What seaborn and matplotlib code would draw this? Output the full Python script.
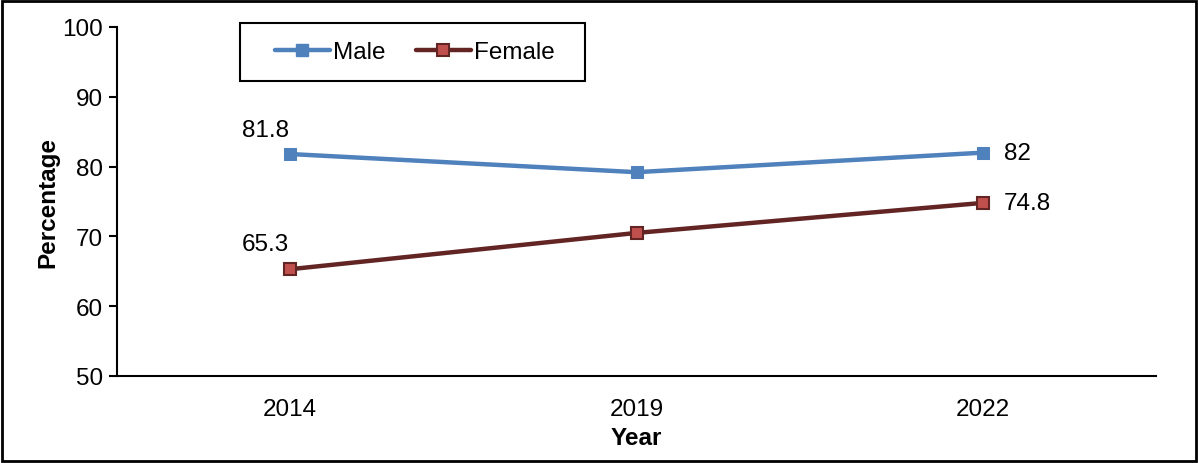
import pandas as pd
import seaborn as sns
import matplotlib.pyplot as plt
from matplotlib.patches import Rectangle

years = ['2014', '2019', '2022']
male = [81.8, 79.2, 82.0]
female = [65.3, 70.5, 74.8]
male_labels = ['81.8', '', '82']
female_labels = ['65.3', '', '74.8']

df = pd.DataFrame({
    'Year': years * 2,
    'Percentage': male + female,
    'Sex': ['Male'] * 3 + ['Female'] * 3,
})

sns.set_style('white')
plt.rcParams['font.family'] = ['Liberation Sans', 'DejaVu Sans']
for k in ['text.color', 'axes.labelcolor', 'xtick.color', 'ytick.color']:
    plt.rcParams[k] = 'black'

FS = 17.5

fig = plt.figure(figsize=(11.98, 4.64), dpi=100, facecolor='white')
ax = fig.add_axes([117 / 1198, 87 / 464, 1039 / 1198, 349 / 464])

ax = sns.lineplot(data=df, x='Year', y='Percentage', hue='Sex', style='Sex',
                  palette={'Male': '#4F81BD', 'Female': '#632523'},
                  markers={'Male': 's', 'Female': 's'}, dashes=False,
                  linewidth=3.2, markersize=9, ax=ax, legend=False)

# marker styling per series
l_male, l_female = ax.lines[0], ax.lines[1]
l_male.set_markerfacecolor('#4F81BD')
l_male.set_markeredgecolor('#4F81BD')
l_female.set_markerfacecolor('#C0504D')
l_female.set_markeredgecolor('#632523')
l_female.set_markeredgewidth(1.5)

ax.set_ylim(50, 100)
ax.set_xlim(-0.5, 2.5)
ax.set_yticks(range(50, 101, 10))

for i, (m, f) in enumerate(zip(male_labels, female_labels)):
    if i == 0:
        ax.annotate(m, (i, male[i]), xytext=(-18, 17), textcoords='offset points',
                    ha='center', va='center', fontsize=FS)
        ax.annotate(f, (i, female[i]), xytext=(-18, 18), textcoords='offset points',
                    ha='center', va='center', fontsize=FS)
    elif m:
        ax.annotate(m, (i, male[i]), xytext=(15, 0), textcoords='offset points',
                    ha='left', va='center', fontsize=FS)
        ax.annotate(f, (i, female[i]), xytext=(15, 0), textcoords='offset points',
                    ha='left', va='center', fontsize=FS)

for s in ['top', 'right']:
    ax.spines[s].set_visible(False)
for s in ['left', 'bottom']:
    ax.spines[s].set_linewidth(1.5)
    ax.spines[s].set_color('black')

ax.tick_params(axis='y', left=True, length=6, width=1.5, labelsize=FS, pad=4)
ax.tick_params(axis='x', bottom=False, labelsize=FS, pad=12)
ax.set_ylabel('Percentage', fontsize=FS, fontweight='bold', labelpad=2)
ax.set_xlabel('Year', fontsize=FS, fontweight='bold', labelpad=5)

h1 = plt.Line2D([], [], color='#4F81BD', lw=3.2, marker='s', markersize=9,
                markerfacecolor='#4F81BD', markeredgecolor='#4F81BD')
h2 = plt.Line2D([], [], color='#632523', lw=3.2, marker='s', markersize=9,
                markerfacecolor='#C0504D', markeredgecolor='#632523', markeredgewidth=1.5)
leg = ax.legend([h1, h2], ['Male', 'Female'], ncol=2, loc='center left',
                bbox_to_anchor=(0.152, 0.928), fontsize=FS, frameon=False,
                handlelength=2.25, handletextpad=0.15,
                columnspacing=1.25, borderpad=0, borderaxespad=0)
ax.add_patch(Rectangle((0.118, 0.845), 0.332, 0.166, transform=ax.transAxes,
                       fill=False, edgecolor='black', linewidth=1.5, clip_on=False))

fig.patches.append(Rectangle((0.002, 0.004), 0.996, 0.992, transform=fig.transFigure,
                             fill=False, edgecolor='black', linewidth=2))

fig.savefig('out.png', dpi=100, facecolor='white')
